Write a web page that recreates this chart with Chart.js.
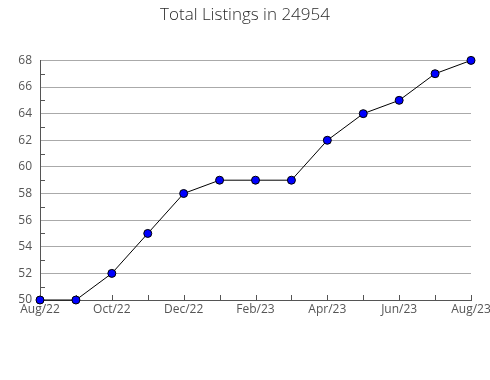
<!DOCTYPE html>
<html>
<head>
<meta charset="utf-8">
<script src="https://cdn.jsdelivr.net/npm/chart.js@4"></script>
<style>
  html, body { margin: 0; padding: 0; background: #fff; }
  #wrap { width: 490px; height: 380px; }
</style>
</head>
<body>
<div id="wrap"><canvas id="c" width="490" height="380"></canvas></div>
<script>
// data
const months = ['Aug/22','Sep/22','Oct/22','Nov/22','Dec/22','Jan/23','Feb/23','Mar/23','Apr/23','May/23','Jun/23','Jul/23','Aug/23'];
const listings = [50, 50, 52, 55, 58, 59, 59, 59, 62, 64, 65, 67, 68];
const yMin = 50, yMax = 68;

const FONT = '"Open Sans", "Noto Sans", sans-serif';

// small tick marks drawn inside the plot, like the original
const innerTicks = {
  id: 'innerTicks',
  beforeDatasetsDraw(chart) {
    const { ctx, chartArea: a, scales: { x, y } } = chart;
    ctx.save();
    ctx.strokeStyle = '#555';
    ctx.lineWidth = 1;
    ctx.beginPath();
    months.forEach((_, i) => {
      const px = Math.round(x.getPixelForValue(i)) + 0.5;
      ctx.moveTo(px, a.bottom);
      ctx.lineTo(px, a.bottom - 5);
    });
    for (let v = yMin + 1; v < yMax; v += 2) {
      const py = Math.round(y.getPixelForValue(v)) + 0.5;
      ctx.moveTo(a.left, py);
      ctx.lineTo(a.left + 5, py);
    }
    ctx.stroke();
    ctx.restore();
  }
};

new Chart(document.getElementById('c'), {
  type: 'line',
  data: {
    labels: months,
    datasets: [{
      data: listings,
      borderColor: '#000',
      borderWidth: 1,
      backgroundColor: '#0000ff',
      pointBackgroundColor: '#0000ff',
      pointBorderColor: '#000',
      pointBorderWidth: 1,
      pointRadius: 4,
      tension: 0,
      clip: false
    }]
  },
  options: {
    responsive: false,
    animation: false,
    layout: { padding: 0 },
    plugins: {
      legend: { display: false },
      tooltip: { enabled: false },
      title: {
        display: true,
        text: 'Total Listings in 24954',
        color: '#2a2a2a',
        font: { family: FONT, size: 17, weight: 300 },
        padding: { top: 5, bottom: 35 }
      }
    },
    scales: {
      x: {
        offset: false,
        grid: { display: false, drawTicks: false },
        border: { color: '#555' },
        ticks: {
          autoSkip: false,
          maxRotation: 0,
          padding: 2,
          color: '#555',
          font: { family: FONT, size: 12 },
          callback: (v, i) => (i % 2 === 0 ? months[i] : '')
        },
        afterFit: s => { s.height = 80; s.paddingRight = 19; }
      },
      y: {
        min: yMin,
        max: yMax,
        grid: {
          drawTicks: false,
          color: c => (c.tick && c.tick.value % 2 === 0 ? '#aaa' : 'rgba(0,0,0,0)')
        },
        border: { color: '#555' },
        ticks: {
          stepSize: 1,
          padding: 8,
          color: '#555',
          font: { family: FONT, size: 12 },
          callback: v => (v % 2 === 0 ? v : '')
        },
        afterFit: s => { s.width = 40; }
      }
    }
  },
  plugins: [innerTicks]
});
</script>
</body>
</html>
